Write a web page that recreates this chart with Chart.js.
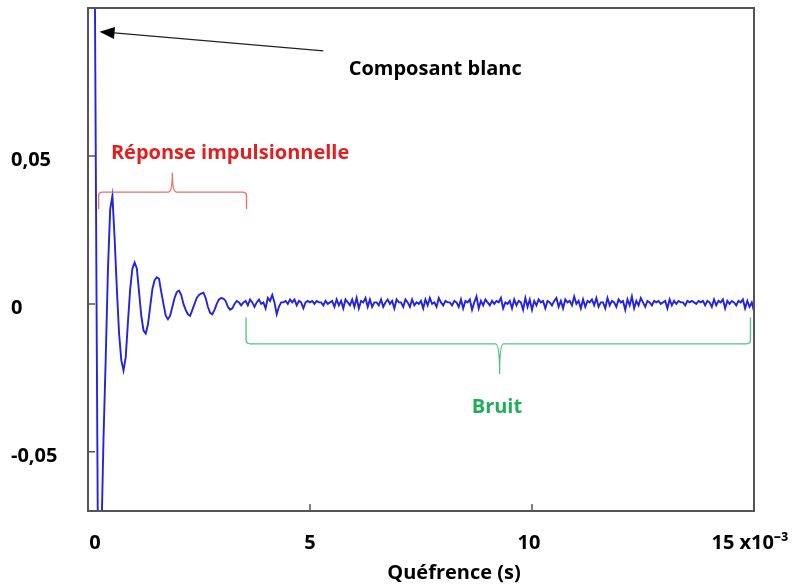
<!DOCTYPE html>
<html><head><meta charset="utf-8">
<script src="https://cdn.jsdelivr.net/npm/chart.js@4"></script>
<style>html,body{margin:0;padding:0;background:#fff}</style>
</head><body>
<canvas id="c" width="793" height="587"></canvas>
<script>
// Quefrency sampling of the trace (ms)
const quefrencyStartMs = 0.10;
const quefrencyStepMs = 0.05;
// Cepstrum amplitude, in units of 1e-3
const cepstrumMilli = [
  250, 120, -20, -150, -80, -45, -18, 12, 32, 36.5,
  22, 5, -10, -19, -22.5, -18, -6, 5, 12, 14,
  12, 4, -4, -9, -10, -7, -1, 5, 8, 9,
  8.5, 4, 0, -4, -5.2, -4, -1, 2, 4, 4.5,
  3, 0, -2, -3.5, -4, -2, 0, 2, 3, 3.5,
  3.8, 2, -1, -3, -3.5, -2, 0, 1.5, 2, 1.8,
  1, -1, -2, -1.5, 0, 1, 0.5, -0.5, 0.5,
  1, -0.5, 1.5, 0.5, -1, 0.5, 1.5, 0, 0.5, -1.5,
  2, 1, 3, 0.5, -3.5, -1, 0.5, 0.5, 1, 0,
  1.5, 0.5, 1.5, -0.5, 1, 0.5, -1.5, 0.5, 1, 0.5,
  1, 0, 1, 0.5, 0.5, -0.5, 1, 0, 0.5, 1,
  -1, 1.5, -0.5, 1, -1.5, 1.5, 0.5, -0.5, 1.5, -1,
  2, -1.5, 1, 0.5, 2, -1, 1.5, -1, 0.5, 0.5,
  -0.5, 1.5, -1, 0.5, 1.5, 0, 1, -1.5, 1.5, 0.5,
  0.5, -1, 1.5, 0.5, -1, 1.5, -0.5, 0.5, 0, 1,
  -1.5, 1.5, -0.5, 2, 0, 0.5, -1, 2, 0.5, -0.5,
  1, 0.5, 0.5, -0.5, 1, 0.5, -1, 1.5, -1.5, 1,
  0.5, 1.5, -2, 0.5, 2.5, -1.5, 1, -0.5, 1.5, 0.5,
  -0.5, 1, 0, 1, 0.5, 2, -1.5, 0.5, 0, 1,
  -1.5, 1.5, -0.5, 1, 0.5, -2, 2, -1, 1.5, -2,
  1, -0.5, 1.5, 0.5, 1, -1.5, 1, 0.5, -0.5, 1,
  2, -1, 1, -1.5, 1.5, 0.5, 1, -0.5, 2.5, 0,
  1, -1.5, 1.5, -1, 1, 0.5, 1.5, -0.5, 2, -1,
  0.5, 0.5, -1.5, 2, -0.5, 1, 0.5, -1, 1.5, 0.5,
  1, -2, 1.5, -0.5, 2.5, -1.5, 1, -0.5, 2, 0.5,
  -1, 1, 0.5, -0.5, 1, 0.5, 1, 0, 0.5, 1,
  -1.5, 1.5, -0.5, 1, 0, 1, 0.5, 0.5, -0.5, 1,
  0.5, 1, 0.5, 0, 1, 0.5, 1, -0.5, 1, 0.5,
  -1, 1.5, -0.5, 1, 0.5, 1.5, -1.5, 1, 0, 1,
  0.5, -0.5, 1, 0.5, 1.5, -1.5, 1, -1, 0.5, -2.5
];
const xTicks = [0, 5, 10, 15];
const xTickLabels = ['0', '5', '10', '15 x10⁻³'];
const yTicks = [0.05, 0, -0.05];
const yTickLabels = ['0,05', '0', '-0,05'];
const xTitle = 'Quéfrence (s)';
const labelWhite = 'Composant blanc';
const labelImpulse = 'Réponse impulsionnelle';
const labelNoise = 'Bruit';

const points = cepstrumMilli.map((v, i) => ({ x: quefrencyStartMs + i * quefrencyStepMs, y: v / 1000 }));

const FONT = 'bold 20px "Open Sans", sans-serif';

function brace(ctx, x0, x1, yEnd, yBar, xTip, yTip, r) {
  const s = Math.sign(yBar - yEnd);
  ctx.beginPath();
  ctx.moveTo(x0, yEnd);
  ctx.lineTo(x0, yBar - s * r);
  ctx.quadraticCurveTo(x0, yBar, x0 + r, yBar);
  ctx.lineTo(xTip - r, yBar);
  ctx.quadraticCurveTo(xTip, yBar, xTip, yTip);
  ctx.quadraticCurveTo(xTip, yBar, xTip + r, yBar);
  ctx.lineTo(x1 - r, yBar);
  ctx.quadraticCurveTo(x1, yBar, x1, yBar - s * r);
  ctx.lineTo(x1, yEnd);
  ctx.stroke();
}

const overlay = {
  id: 'overlay',
  afterDraw(chart) {
    const { ctx, chartArea: a, scales: { x, y } } = chart;
    ctx.save();
    ctx.strokeStyle = '#555';
    ctx.lineWidth = 2;
    ctx.strokeRect(a.left, a.top, a.right - a.left, a.bottom - a.top);
    ctx.lineWidth = 1.5;
    ctx.beginPath();
    yTicks.forEach(v => { const py = y.getPixelForValue(v); ctx.moveTo(a.left, py); ctx.lineTo(a.left + 7, py); });
    xTicks.forEach(v => { const px = x.getPixelForValue(v); ctx.moveTo(px, a.bottom); ctx.lineTo(px, a.bottom - 7); });
    ctx.stroke();

    ctx.fillStyle = '#000';
    ctx.font = FONT;
    ctx.textBaseline = 'middle';
    ctx.textAlign = 'left';
    yTicks.forEach((v, i) => ctx.fillText(yTickLabels[i], 11, y.getPixelForValue(v) + 4));
    ctx.textAlign = 'center';
    xTicks.forEach((v, i) => {
      let px = x.getPixelForValue(v);
      if (i === 0) px += 7;
      if (i === 2) px -= 3;
      if (i === 3) px -= 4;
      ctx.fillText(xTickLabels[i], px, a.bottom + 32);
    });
    ctx.fillText(xTitle, 454, 573);

    const ax0 = x.getPixelForValue(5.3), ay0 = y.getPixelForValue(0.0855);
    const ax1 = x.getPixelForValue(0.26), ay1 = y.getPixelForValue(0.0920);
    ctx.strokeStyle = '#222';
    ctx.fillStyle = '#000';
    ctx.lineWidth = 1.2;
    const ang = Math.atan2(ay1 - ay0, ax1 - ax0);
    ctx.beginPath(); ctx.moveTo(ax0, ay0); ctx.lineTo(ax1 - 12 * Math.cos(ang), ay1 - 12 * Math.sin(ang)); ctx.stroke();
    ctx.beginPath();
    ctx.moveTo(ax1, ay1);
    ctx.lineTo(ax1 - 15 * Math.cos(ang) + 6 * Math.sin(ang), ay1 - 15 * Math.sin(ang) - 6 * Math.cos(ang));
    ctx.lineTo(ax1 - 15 * Math.cos(ang) - 6 * Math.sin(ang), ay1 - 15 * Math.sin(ang) + 6 * Math.cos(ang));
    ctx.closePath(); ctx.fill();
    ctx.fillText(labelWhite, x.getPixelForValue(7.82), y.getPixelForValue(0.0794));

    ctx.strokeStyle = '#f06a6a';
    ctx.lineWidth = 1.3;
    brace(ctx, x.getPixelForValue(0.24), x.getPixelForValue(3.57), y.getPixelForValue(0.032), y.getPixelForValue(0.0378), x.getPixelForValue(1.9), y.getPixelForValue(0.0443), 4);
    ctx.fillStyle = '#e41e1e';
    ctx.fillText(labelImpulse, x.getPixelForValue(3.2), y.getPixelForValue(0.051));

    ctx.strokeStyle = '#52c08a';
    brace(ctx, x.getPixelForValue(3.56), x.getPixelForValue(14.92), y.getPixelForValue(-0.0045), y.getPixelForValue(-0.0135), x.getPixelForValue(9.27), y.getPixelForValue(-0.0237), 4);
    ctx.fillStyle = '#1fae5a';
    ctx.fillText(labelNoise, x.getPixelForValue(9.21), y.getPixelForValue(-0.0351));
    ctx.restore();
  }
};

new Chart(document.getElementById('c'), {
  type: 'line',
  data: { datasets: [{ data: points, borderColor: 'rgb(35,35,225)', borderWidth: 1.9, pointRadius: 0, tension: 0, fill: false }] },
  options: {
    responsive: false,
    animation: false,
    events: [],
    layout: { padding: { left: 88, right: 39, top: 8, bottom: 76 } },
    plugins: { legend: { display: false }, tooltip: { enabled: false } },
    scales: {
      x: { type: 'linear', min: 0, max: 15, display: false },
      y: { type: 'linear', min: -0.07, max: 0.1, display: false }
    }
  },
  plugins: [overlay]
});
</script>
</body></html>
